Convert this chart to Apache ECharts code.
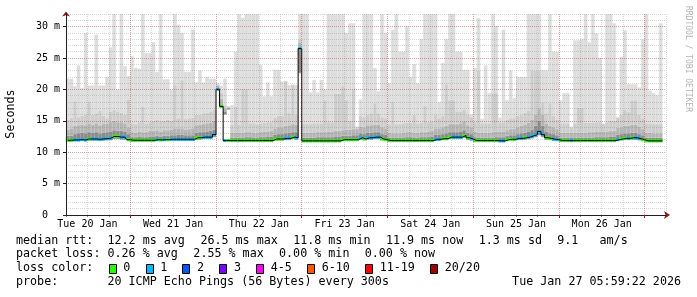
<!DOCTYPE html>
<html><head><meta charset="utf-8">
<script src="https://cdn.jsdelivr.net/npm/echarts@6/dist/echarts.min.js"></script>
<style>html,body{margin:0;padding:0;background:#fff}#c{width:697px;height:297px}</style>
</head><body><div id="c"></div>
<script>
// ---- time axis (hours since Mon 19 Jan 00:00) ----
const startHour = 30;   // Tue 20 Jan 06:00
const endHour = 198;    // Tue 27 Jan 06:00
const dayLabels = ['Tue 20 Jan','Wed 21 Jan','Thu 22 Jan','Fri 23 Jan','Sat 24 Jan','Sun 25 Jan','Mon 26 Jan'];
const dayLabelHours = [36,60,84,108,132,156,180];
const dayBoundaryHours = [48,72,96,120,144,168,192];
const yTickValues = [0,5,10,15,20,25,30];
const yTickLabels = ['0  ','5 m','10 m','15 m','20 m','25 m','30 m'];

// ---- hourly buckets (ms) ----
const median = [
11.9,11.9,11.95,11.95,12.0,11.95,12.1,12.1,12.1,12.05,12.1,12.15,12.2,12.5,12.5,12.4,12.4,12.0,
11.9,11.9,11.9,11.9,11.9,11.9,11.9,12.0,11.95,12.0,12.0,12.05,12.05,12.05,12.05,12.05,12.05,12.05,12.3,12.3,12.4,12.4,12.4,12.8,
20.0,17.3,11.85,11.85,11.85,11.85,11.85,11.85,11.85,11.85,11.85,11.85,11.85,11.85,11.85,11.85,12.1,12.1,12.1,12.2,12.2,12.4,12.3,26.5,
11.8,11.8,11.8,11.8,11.8,11.8,11.8,11.8,11.8,11.8,11.8,12.0,12.0,12.0,12.0,12.0,12.3,12.1,12.3,12.3,12.4,12.4,12.1,12.0,
11.85,11.85,11.85,11.85,11.85,11.85,11.85,11.85,11.85,11.85,11.85,11.85,11.85,12.05,12.05,12.15,12.15,12.4,12.4,12.4,12.4,12.65,12.3,12.1,
11.85,11.85,11.85,11.85,11.85,11.85,11.85,11.8,11.8,12.0,12.05,12.05,12.2,12.2,12.3,12.4,12.6,12.8,13.3,12.8,12.3,12.2,12.05,12.0,
11.85,11.85,11.85,11.85,11.85,11.85,11.85,11.85,11.85,11.85,11.85,11.85,11.85,11.85,11.85,11.85,12.0,12.1,12.2,12.2,12.3,12.3,12.15,12.0,
11.8,11.8,11.8,11.8,11.8,null];
const lossCount = [
0,0,1,1,1,1,0,1,1,1,1,1,1,0,0,1,1,0,
0,0,0,0,0,0,0,1,0,1,0,1,1,1,1,1,1,1,0,0,1,1,1,1,
1,0,1,0,0,0,0,0,0,0,0,0,0,0,0,0,0,0,0,1,1,0,1,1,
0,0,0,0,0,0,0,0,0,0,0,0,0,0,0,0,1,0,1,1,1,1,0,0,
0,0,0,0,0,0,0,0,0,0,0,0,0,1,1,0,0,0,1,1,1,0,0,1,
0,0,0,0,0,0,0,1,1,0,0,0,1,1,0,1,1,1,1,1,0,0,1,1,
0,0,0,1,0,0,0,0,0,0,0,0,0,0,0,0,1,0,0,1,0,1,1,0,
0,0,0,0,0,null];
const smokeMin = [
11.7,11.7,11.75,11.75,11.8,11.75,11.85,11.85,11.85,11.8,11.85,11.9,11.9,12.1,12.1,12.0,12.0,11.75,
11.7,11.7,11.7,11.7,11.7,11.7,11.7,11.8,11.75,11.8,11.8,11.8,11.8,11.8,11.8,11.8,11.8,11.8,12.0,12.0,12.1,12.1,12.1,12.4,
19.8,17.1,16.0,16.8,11.65,11.65,11.65,11.65,11.65,11.65,11.65,11.65,11.65,11.65,11.65,11.65,11.85,11.85,11.85,11.95,11.95,12.1,12.0,22.6,
11.6,11.6,11.6,11.6,11.6,11.6,11.6,11.6,11.6,11.6,11.6,11.8,11.8,11.8,11.8,11.8,12.0,11.9,12.0,12.0,12.1,12.1,11.9,11.8,
11.65,11.65,11.65,11.65,11.65,11.65,11.65,11.65,11.65,11.65,11.65,11.65,11.65,11.85,11.85,11.95,11.95,12.1,12.1,12.1,12.1,12.3,12.0,11.9,
11.65,11.65,11.65,11.65,11.65,11.65,11.65,11.6,11.6,11.8,11.85,11.85,11.95,11.95,12.0,12.1,12.2,12.4,12.7,12.4,12.0,11.95,11.85,11.8,
11.65,11.65,11.65,11.65,11.65,11.65,11.65,11.65,11.65,11.65,11.65,11.65,11.65,11.65,11.65,11.65,11.8,11.9,11.95,11.95,12.0,12.0,11.9,11.8,
11.6,11.6,11.6,11.6,11.6,null];
const smokeDark = [
12.6,12.6,12.9,13.0,13.1,13.0,13.2,13.1,13.2,13.0,13.1,13.2,13.3,13.5,13.4,13.4,13.3,12.9,
12.4,12.4,12.5,12.4,12.4,12.5,12.5,12.6,12.5,12.6,12.6,12.7,12.7,12.8,12.8,12.7,12.7,12.7,13.1,13.2,13.2,13.3,13.4,13.6,
20.3,17.6,16.5,17.0,12.3,12.3,12.3,12.3,12.4,12.4,12.3,12.3,12.4,12.4,12.5,12.5,12.8,12.9,12.9,13.0,13.1,13.2,13.2,26.3,
12.3,12.3,12.3,12.3,12.4,12.4,12.4,12.4,12.4,12.5,12.5,12.6,12.6,12.6,12.7,12.7,13.0,12.9,13.1,13.1,13.2,13.2,12.9,12.8,
12.3,12.3,12.3,12.3,12.3,12.4,12.4,12.3,12.3,12.4,12.4,12.4,12.5,12.8,12.8,12.9,13.0,13.2,13.2,13.2,13.3,13.5,13.1,12.9,
12.4,12.3,12.3,12.3,12.3,12.3,12.4,12.4,12.4,12.6,12.7,12.7,12.9,13.0,13.1,13.3,13.6,14.2,15.0,14.2,13.3,13.0,12.9,12.7,
12.3,12.3,12.3,12.3,12.3,12.3,12.3,12.3,12.3,12.3,12.4,12.4,12.4,12.4,12.5,12.5,12.8,12.9,13.0,13.0,13.1,13.1,12.9,12.7,
12.3,12.3,12.3,12.3,12.3,null];
const smokeMid = [
13.6,13.8,14.2,14.3,14.4,14.3,14.6,14.4,14.6,14.3,14.5,14.6,14.8,15.0,14.8,14.8,14.6,14.0,
13.2,13.1,13.3,13.2,13.2,13.4,13.4,13.5,13.3,13.5,13.5,13.6,13.8,13.8,13.8,13.6,13.7,13.8,14.3,14.4,14.5,14.6,14.7,15.0,
20.6,18.5,17.0,17.1,13.1,13.1,13.1,13.1,13.2,13.2,13.1,13.1,13.2,13.3,13.3,13.4,13.8,14.0,14.0,14.2,14.3,14.5,14.4,27.5,
13.1,13.1,13.1,13.1,13.2,13.2,13.2,13.3,13.3,13.4,13.4,13.5,13.6,13.6,13.7,13.7,14.1,14.0,14.3,14.3,14.4,14.4,14.0,13.8,
13.1,13.0,13.0,13.0,13.1,13.2,13.2,13.1,13.1,13.2,13.2,13.3,13.4,13.8,13.8,14.0,14.2,14.5,14.5,14.5,14.6,14.9,14.3,14.0,
13.3,13.1,13.1,13.1,13.1,13.2,13.3,13.3,13.3,13.5,13.7,13.7,14.0,14.2,14.4,14.7,15.2,16.0,17.0,16.0,14.6,14.2,14.0,13.7,
13.1,13.1,13.1,13.1,13.1,13.1,13.1,13.1,13.2,13.2,13.3,13.3,13.3,13.3,13.4,13.4,13.9,14.0,14.2,14.2,14.4,14.4,14.1,13.7,
13.1,13.1,13.0,13.0,13.0,null];
const smokeUpper = [
15.2,15.5,18.1,15.6,15.8,16.0,18.1,16.0,16.2,16.6,15.8,15.4,16.5,16.8,16.5,16.3,16.0,18.4,
14.6,14.5,14.8,17.3,14.6,14.8,15.0,15.2,14.9,15.0,15.2,15.0,20.7,15.4,21.5,15.3,15.4,15.5,16.0,16.0,16.2,16.3,16.5,16.8,
20.8,19.5,17.5,17.2,14.4,17.3,14.4,20.1,20.1,14.6,14.6,14.5,14.6,14.7,14.8,14.8,15.5,15.8,15.8,21.3,16.2,20.7,16.0,28.0,
14.5,14.5,14.5,14.6,14.6,14.6,18.3,14.8,14.8,19.3,19.3,20.5,18.3,15.0,20.0,15.0,15.8,15.6,16.0,16.2,17.8,16.2,15.6,15.4,
14.5,18.1,14.5,14.5,14.6,14.7,14.7,16.0,14.6,14.7,17.4,14.8,14.9,16.0,15.4,15.8,20.8,18.3,18.3,16.5,16.5,16.8,16.0,15.6,
14.8,23.0,14.6,14.6,14.6,19.4,19.4,14.8,14.8,15.2,15.4,15.4,15.8,16.0,16.3,16.6,23.0,23.0,23.0,18.0,16.2,17.8,15.8,15.2,
14.6,14.6,14.6,14.6,14.6,17.1,17.1,14.7,14.7,14.7,14.8,14.8,14.8,14.8,15.0,15.0,15.8,16.0,16.8,16.4,18.3,18.3,16.0,15.4,
14.6,14.6,14.5,14.5,14.5,null];
const smokeMax = [
21.7,21.7,20.5,23.8,20.2,29.0,20.6,20.6,28.7,20.6,20.6,22.0,26.7,32,20.0,32,23.7,22.1,
25.3,23.4,23.3,32,25.8,25.8,27.5,22.8,32,21.6,21.6,19.9,32,30.3,29.0,22.8,22.8,29.5,21.1,23.0,21.1,22.0,21.7,21.7,
21.0,20.5,21.7,17.3,17.5,26.0,32,31.4,32,32,32,32,23.9,18.9,21.1,18.9,23.1,23.1,21.3,21.3,20.7,20.7,20.7,32,
32,32,19.5,21.5,19.5,21.5,20.0,32,32,32,32,32,29.0,30.5,30.5,14.0,18.4,32,32,32,23.4,19.7,32,29.0,
21.0,29.5,32,26.0,26.0,30.0,22.0,24.0,21.0,28.0,32,32,32,32,18.0,24.2,28.0,32,32,26.0,26.0,23.1,23.1,16.0,
23.4,31.3,15.3,23.8,19.4,32,30.1,15.5,29.5,18.3,23.0,18.6,22.0,22.0,22.0,32,32,32,32,23.1,23.0,32,26.0,26.0,
18.3,19.4,19.4,14.0,27.8,27.8,28.0,32,27.5,32,28.9,25.0,14.5,32,32,30.5,15.5,25.2,29.4,20.8,20.8,20.8,20.3,28.0,
32,19.8,19.4,19.1,30.5,null];

// ---- legend / text ----
const lossLegend = ['0','1','2','3','4-5','6-10','11-19','20/20'];
const lossColors = ['#26ff00','#00b8ff','#0059ff','#7e00ff','#ff00ff','#ff5500','#ff0000','#a10000'];
const statsRtt = ['median rtt:  12.2 ms avg','26.5 ms max','11.8 ms min','11.9 ms now','1.3 ms sd','9.1   am/s'];
const statsLoss = ['packet loss: 0.26 % avg','2.55 % max','0.00 % min','0.00 % now'];
const lossTitle = 'loss color:';
const probeText = 'probe:       20 ICMP Echo Pings (56 Bytes) every 300s';
const stampText = 'Tue Jan 27 05:59:22 2026';
const yName = 'Seconds';
const watermark = 'RRDTOOL / TOBI OETIKER';

// ---------------------------------------------------------------
const MONO = "'DejaVu Sans Mono', monospace";
const buckets = median.map((_, i) => String(startHour + i));

// build stacked smoke bands (clamped levels)
const bandBase = [], bandDark = [], bandMid = [], bandUpper = [], bandLight = [];
for (let i = 0; i < median.length; i++) {
  if (smokeMin[i] == null) { [bandBase, bandDark, bandMid, bandUpper, bandLight].forEach(a => a.push(null)); continue; }
  const top = smokeMax[i];
  const c0 = smokeMin[i];
  const c1 = Math.min(Math.max(smokeDark[i], c0), top);
  const c2 = Math.min(Math.max(smokeMid[i], c1), top);
  const c3 = Math.min(Math.max(smokeUpper[i], c2), top);
  bandBase.push(c0); bandDark.push(+(c1 - c0).toFixed(3)); bandMid.push(+(c2 - c1).toFixed(3));
  bandUpper.push(+(c3 - c2).toFixed(3)); bandLight.push(+(top - c3).toFixed(3));
}
const MED_HALF = 0.23;
const medBase = median.map(v => v == null ? null : v - MED_HALF);
const medSeg = median.map((v, i) => v == null ? null : { value: 2 * MED_HALF, itemStyle: { color: lossColors[lossCount[i]], borderColor: lossColors[lossCount[i]] } });

function bar(stack, data, color) {
  return {
    type: 'bar', stack, data, xAxisIndex: 0, yAxisIndex: 0,
    barWidth: '100%', barGap: '-100%', barCategoryGap: '0%',
    silent: true, animation: false,
    itemStyle: color === 'transparent' ? { color: 'transparent' } : { color, borderColor: color, borderWidth: 0.5 }
  };
}

const series = [
  bar('smoke', bandBase, 'transparent'),
  bar('smoke', bandDark, '#8c8c8c'),
  bar('smoke', bandMid, '#b5b5b5'),
  bar('smoke', bandUpper, '#cdcdcd'),
  bar('smoke', bandLight, '#dddddd'),
  {
    type: 'line', data: median, xAxisIndex: 0, yAxisIndex: 0, step: 'middle', symbol: 'none',
    lineStyle: { color: '#000', width: 1 }, silent: true, animation: false
  },
  bar('median', medBase, 'transparent'),
  Object.assign(bar('median', medSeg, '#26ff00'), { itemStyle: { borderWidth: 0.5 } })
];

const GRID_MINOR = 'rgba(110,110,110,0.28)';
const GRID_MAJOR = 'rgba(222,50,50,0.33)';
const AXIS = '#202020';
const ARROW = '#8b1a1a';

const option = {
  animation: false,
  backgroundColor: '#ffffff',
  textStyle: { fontFamily: MONO },
  grid: { left: 66, right: 31, top: 14, bottom: 82, outerBoundsMode: 'none', containLabel: false },
  xAxis: [
    { type: 'category', data: buckets, boundaryGap: true, show: false, position: 'bottom' },
    { type: 'value', min: startHour, max: endHour, interval: 6, position: 'bottom', z: 5,
      axisLine: { show: true, lineStyle: { color: ARROW, width: 1 }, symbol: ['none', 'arrow'], symbolSize: [6, 6], symbolOffset: [0, 4] },
      axisTick: { show: true, length: 2, lineStyle: { color: '#888' } },
      axisLabel: { show: false },
      splitLine: { show: true, lineStyle: { color: GRID_MINOR, type: [1, 1], width: 1 } } },
    { type: 'value', min: startHour, max: endHour, position: 'bottom', z: 7,
      axisLine: { show: true, lineStyle: { color: AXIS, width: 1 } },
      axisTick: { show: true, length: 3, customValues: dayBoundaryHours, lineStyle: { color: ARROW } },
      axisLabel: { show: true, customValues: dayLabelHours, margin: 4, color: '#000', fontFamily: MONO, fontSize: 10,
        formatter: v => dayLabels[dayLabelHours.indexOf(v)] || '' },
      splitLine: { show: true, lineStyle: { color: GRID_MAJOR, type: [1, 1], width: 1 } } }
  ],
  yAxis: [
    { type: 'value', min: 0, max: 32, position: 'left', z: 6,
      axisLine: { show: true, lineStyle: { color: AXIS, width: 1 } },
      axisTick: { show: true, length: 3, customValues: yTickValues, lineStyle: { color: AXIS } },
      axisLabel: { show: true, customValues: yTickValues, margin: 6, color: '#000', fontFamily: MONO, fontSize: 10,
        formatter: v => yTickLabels[yTickValues.indexOf(v)] || '' },
      splitLine: { show: true, lineStyle: { color: GRID_MAJOR, type: [1, 1], width: 1 } } },
    { type: 'value', min: 0, max: 32, interval: 1, position: 'left', z: 5,
      axisLine: { show: true, lineStyle: { color: ARROW, width: 1 }, symbol: ['none', 'arrow'], symbolSize: [6, 5], symbolOffset: [0, 2.5] },
      axisTick: { show: false }, axisLabel: { show: false },
      splitLine: { show: true, lineStyle: { color: GRID_MINOR, type: [1, 1], width: 1 } } }
  ],
  series,
  graphic: []
};

// text elements
const FS = 11.7, CW = 7.05, GAP = 15.2, X0 = 16;
const rows = [240.6, 254.1, 268.3, 282.3];
const g = option.graphic;
function txt(x, y, s, extra) {
  g.push(Object.assign({ type: 'text', x, y, silent: true,
    style: Object.assign({ text: s, fill: '#000', font: FS + 'px ' + MONO, align: 'left', verticalAlign: 'middle' }, extra || {}) }));
}
function row(items, y) { let x = X0; items.forEach(s => { txt(x, y, s); x += s.length * CW + GAP; }); }
row(statsRtt, rows[0]);
row(statsLoss, rows[1]);
txt(X0, rows[2], lossTitle);
let lx = X0 + lossTitle.length * CW + GAP;
lossLegend.forEach((s, i) => {
  g.push({ type: 'rect', silent: true, shape: { x: Math.round(lx) + 0.5, y: 264.5, width: 7, height: 9 },
    style: { fill: lossColors[i], stroke: '#000', lineWidth: 1 } });
  const tx = lx + 14.6;
  txt(tx, rows[2], s);
  lx = tx + s.length * CW + GAP;
});
txt(X0, rows[3], probeText);
txt(681, rows[3], stampText, { align: 'right' });
g.push({ type: 'text', x: 11, y: 114, rotation: Math.PI / 2, silent: true,
  style: { text: yName, fill: '#000', font: FS + 'px ' + MONO, align: 'center', verticalAlign: 'middle' } });
g.push({ type: 'text', x: 688, y: 59, rotation: -Math.PI / 2, silent: true,
  style: { text: watermark, fill: '#b4b4b4', font: '8px ' + MONO, align: 'center', verticalAlign: 'middle' } });

const chart = echarts.init(document.getElementById('c'), null, { renderer: 'canvas' });
chart.setOption(option);
</script></body></html>
